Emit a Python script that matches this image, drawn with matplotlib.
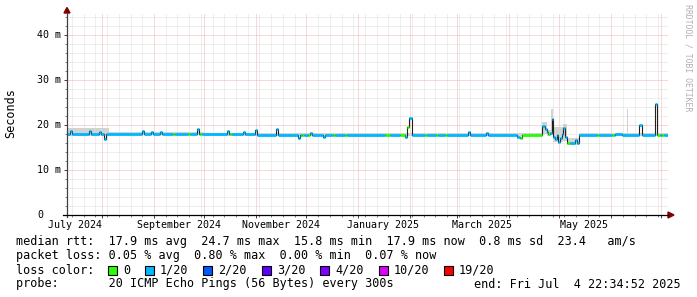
import pandas as pd
import matplotlib
matplotlib.use("Agg")
import matplotlib.pyplot as plt
import matplotlib.dates as mdates
import matplotlib.ticker as mticker
from matplotlib.transforms import blended_transform_factory
from matplotlib.patches import Polygon, Rectangle

# DONNEES
rtt_start = [
    "2024-07-10 00:00", "2024-07-12 16:00", "2024-07-14 00:00", "2024-07-24 06:00",
    "2024-07-25 10:00", "2024-07-30 04:00", "2024-07-31 10:00", "2024-08-02 06:00",
    "2024-08-03 10:00", "2024-08-24 22:00", "2024-08-26 02:00", "2024-08-30 06:00",
    "2024-08-31 12:00", "2024-09-04 14:00", "2024-09-05 20:00", "2024-09-12 08:00",
    "2024-09-13 12:00", "2024-09-21 08:00", "2024-09-22 12:00", "2024-09-26 16:00",
    "2024-09-27 22:00", "2024-09-28 12:00", "2024-09-29 18:00", "2024-10-14 14:00",
    "2024-10-15 20:00", "2024-10-16 10:00", "2024-10-17 14:00", "2024-10-24 04:00",
    "2024-10-25 10:00", "2024-10-31 08:00", "2024-11-01 12:00", "2024-11-12 20:00",
    "2024-11-14 00:00", "2024-11-25 22:00", "2024-11-27 02:00", "2024-11-28 08:00",
    "2024-11-29 12:00", "2024-12-02 00:00", "2024-12-03 04:00", "2024-12-04 10:00",
    "2024-12-10 22:00", "2024-12-12 02:00", "2024-12-16 22:00", "2024-12-18 02:00",
    "2024-12-24 00:00", "2024-12-25 04:00", "2025-01-16 22:00", "2025-01-19 22:00",
    "2025-01-25 20:00", "2025-01-28 16:00", "2025-01-30 00:00", "2025-01-31 04:00",
    "2025-02-01 22:00", "2025-02-09 20:00", "2025-02-11 00:00", "2025-02-16 04:00",
    "2025-02-17 10:00", "2025-02-22 00:00", "2025-02-23 04:00", "2025-03-07 12:00",
    "2025-03-08 18:00", "2025-03-18 04:00", "2025-03-19 10:00", "2025-04-05 20:00",
    "2025-04-07 14:00", "2025-04-08 20:00", "2025-04-20 22:00", "2025-04-22 08:00",
    "2025-04-23 12:00", "2025-04-24 12:00", "2025-04-25 12:00", "2025-04-26 12:00",
    "2025-04-27 10:00", "2025-04-28 10:00", "2025-04-29 10:00", "2025-04-30 10:00",
    "2025-05-01 10:00", "2025-05-02 10:00", "2025-05-03 10:00", "2025-05-04 10:00",
    "2025-05-05 10:00", "2025-05-07 10:00", "2025-05-10 10:00", "2025-05-11 10:00",
    "2025-05-12 22:00", "2025-05-23 08:00", "2025-05-24 12:00", "2025-06-01 08:00",
    "2025-06-02 10:00", "2025-06-03 08:00", "2025-06-07 12:00", "2025-06-17 14:00",
    "2025-06-19 04:00", "2025-06-26 22:00", "2025-06-28 12:00", "2025-06-29 22:00",
    "2025-07-01 10:00", "2025-07-02 20:00",
]
rtt_median = [
    17.9, 18.6, 17.9, 18.7, 17.9, 18.5, 18.0, 17.0,
    17.9, 18.6, 18.1, 18.4, 18.1, 18.4, 18.1, 18.1,
    18.1, 18.1, 18.1, 19.1, 18.0, 18.0, 18.0, 18.6,
    18.0, 18.0, 18.0, 18.5, 18.0, 18.8, 17.8, 19.2,
    17.8, 17.1, 17.8, 17.8, 17.8, 17.8, 18.3, 17.8,
    17.4, 17.8, 17.8, 17.8, 17.8, 17.8, 17.8, 17.8,
    17.8, 17.3, 19.6, 21.6, 17.8, 17.8, 17.8, 17.8,
    17.8, 17.8, 17.8, 18.4, 17.8, 18.3, 17.8, 17.4,
    17.1, 17.8, 19.8, 19.2, 18.5, 18.0, 18.3, 21.3,
    17.4, 16.8, 17.8, 16.3, 17.1, 18.0, 19.3, 17.4,
    15.9, 15.9, 16.7, 15.9, 17.8, 17.8, 17.8, 17.8,
    17.8, 18.0, 17.8, 19.9, 17.8, 24.7, 17.8, 17.8,
    17.8, 17.8,
]
# 0 = aucune perte, 1 = 1/20
rtt_loss = [
    1, 1, 1, 1, 1, 1, 1, 1,
    1, 1, 1, 1, 1, 1, 1, 0,
    1, 0, 1, 1, 1, 0, 1, 1,
    1, 0, 1, 1, 1, 1, 1, 1,
    1, 1, 1, 0, 1, 0, 1, 1,
    1, 1, 0, 1, 0, 1, 0, 1,
    0, 1, 0, 1, 1, 0, 1, 0,
    1, 0, 1, 1, 1, 1, 1, 1,
    0, 0, 1, 1, 1, 0, 1, 1,
    1, 1, 1, 1, 1, 1, 1, 1,
    0, 1, 1, 1, 1, 0, 1, 0,
    1, 1, 1, 1, 1, 1, 0, 1,
    0, 1,
]

smoke_start = ["2024-07-10 00:00", "2024-08-05 00:00", "2024-10-01 00:00",
               "2025-04-20 22:00", "2025-04-23 12:00", "2025-04-26 00:00", "2025-04-27 10:00",
               "2025-05-03 00:00", "2025-05-05 10:00", "2025-05-12 22:00",
               "2025-06-10 06:00", "2025-06-10 20:00", "2025-07-05 00:00"]
smoke_low = [17.5, 17.7, 17.6, 18.0, 17.6, 17.8, 16.2, 16.5, 15.6, 17.6, 17.6, 17.6, 17.6]
smoke_high = [19.3, 18.5, 18.3, 20.6, 19.0, 23.6, 19.6, 20.3, 17.1, 18.3, 23.5, 18.3, 18.3]

loss_labels = ["0", "1/20", "2/20", "3/20", "4/20", "10/20", "19/20"]
loss_colors = ["#26ff00", "#00b8ff", "#0059ff", "#5e00ff", "#7e00ff", "#dd00ff", "#ff0000"]

month_label_dates = ["2024-07-16", "2024-09-16", "2024-11-16", "2025-01-16", "2025-03-16", "2025-05-16"]
month_labels = ["July 2024", "September 2024", "November 2024", "January 2025", "March 2025", "May 2025"]

ytick_values = [0, 10, 20, 30, 40]
ytick_labels = ["0", "10 m", "20 m", "30 m", "40 m"]

ligne_rtt = "median rtt:  17.9 ms avg  24.7 ms max  15.8 ms min  17.9 ms now  0.8 ms sd  23.4   am/s"
ligne_perte = "packet loss: 0.05 % avg  0.80 % max  0.00 % min  0.07 % now"
ligne_sonde = "probe:       20 ICMP Echo Pings (56 Bytes) every 300s"
ligne_fin = "end: Fri Jul  4 22:34:52 2025"

debut = pd.Timestamp("2024-07-11 02:00")
fin = pd.Timestamp("2025-07-04 22:34")

# MISE EN PAGE (PIXELS)
W, H = 697, 297
MONO = "DejaVu Sans Mono"
FS = 8.5      # legende
FS_AX = 7.2   # axes
CW = 7.09     # largeur d'un caractere de legende en px
CW_AX = 6.0


def fx(x):
    return x / W


def fy(y):
    return 1 - y / H


fig = plt.figure(figsize=(W / 100, H / 100), dpi=100)
fig.patch.set_facecolor("white")
ax = fig.add_axes([fx(67), fy(215), 601 / W, (215 - 12.5) / H])
ax.set_facecolor("white")

ax.set_xlim(debut, fin)
ax.set_ylim(0, 45)

# grille
ax.xaxis.set_major_locator(mdates.MonthLocator())
ax.xaxis.set_minor_locator(mdates.WeekdayLocator(byweekday=mdates.SU))
ax.xaxis.set_major_formatter(mticker.NullFormatter())
ax.yaxis.set_major_locator(mticker.FixedLocator(ytick_values))
ax.yaxis.set_minor_locator(mticker.MultipleLocator(2))
ax.yaxis.set_major_formatter(mticker.NullFormatter())
ax.grid(which="minor", color="#dcdcdc", linestyle=(0, (1, 1)), linewidth=0.72, zorder=0)
ax.grid(which="major", color="#f0b0b0", linestyle=(0, (1, 1)), linewidth=0.72, zorder=0)
ax.set_axisbelow(True)

for s in ["top", "right", "left", "bottom"]:
    ax.spines[s].set_visible(False)
ax.tick_params(which="major", length=2.2, width=0.7, color="#404040")
ax.tick_params(which="minor", length=1.4, width=0.7, color="#808080")

# fumee
sm = pd.DataFrame({"t": pd.to_datetime(smoke_start), "lo": smoke_low, "hi": smoke_high})
ax.fill_between(sm["t"], sm["lo"], sm["hi"], step="post", color="#d2d2d2", lw=0, zorder=2)

# mediane
df = pd.DataFrame({"t": pd.to_datetime(rtt_start), "med": rtt_median, "loss": rtt_loss})
t_fin = list(df["t"][1:]) + [fin + pd.Timedelta(days=1)]
ax.step(list(df["t"]) + [t_fin[-1]], list(df["med"]) + [df["med"].iloc[-1]],
        where="post", color="#202020", lw=0.8, zorder=3)
ax.hlines(df["med"], df["t"], t_fin, colors=[loss_colors[i] for i in df["loss"]],
          lw=2.0, zorder=4)

# etiquettes des axes
tr_x = blended_transform_factory(ax.transData, fig.transFigure)
for d, lab in zip(month_label_dates, month_labels):
    ax.text(pd.Timestamp(d), fy(224.5), lab, transform=tr_x, ha="center", va="center",
            family=MONO, size=FS_AX)

tr_y = blended_transform_factory(fig.transFigure, ax.transData)
for v, lab in zip(ytick_values, ytick_labels):
    # rrdtool aligne "0" comme s'il avait deux espaces apres
    xr = 61 - (4 - len(lab)) * CW_AX if lab == "0" else 61
    ax.text(fx(xr), v, lab, transform=tr_y, ha="right", va="center",
            family=MONO, size=FS_AX, clip_on=False)

# axes et fleches
fig.add_artist(plt.Line2D([fx(67), fx(67)], [fy(217), fy(13)], color="#404040", lw=0.9))
fig.add_artist(plt.Line2D([fx(63), fx(668)], [fy(215), fy(215)], color="#000000", lw=0.9))
fig.patches.append(Polygon([[fx(64), fy(13)], [fx(70), fy(13)], [fx(67), fy(7.5)]],
                           closed=True, transform=fig.transFigure, color="#7f0000"))
fig.patches.append(Polygon([[fx(668), fy(212)], [fx(668), fy(218)], [fx(674), fy(215)]],
                           closed=True, transform=fig.transFigure, color="#7f0000"))

# textes
fig.text(fx(11), fy(113), "Seconds", rotation=90, ha="center", va="center", family=MONO, size=FS)
fig.text(fx(688), fy(4), "RRDTOOL / TOBI OETIKER", rotation=270, ha="center", va="top",
         family=MONO, size=5.9, color="#b0b0b0")

fig.text(fx(16), fy(242), ligne_rtt, ha="left", va="center", family=MONO, size=FS)
fig.text(fx(16), fy(256), ligne_perte, ha="left", va="center", family=MONO, size=FS)
fig.text(fx(16), fy(270), "loss color:", ha="left", va="center", family=MONO, size=FS)
fig.text(fx(16), fy(284), ligne_sonde, ha="left", va="center", family=MONO, size=FS)
fig.text(fx(681), fy(284), ligne_fin, ha="right", va="center", family=MONO, size=FS)

x = 108
for lab, col in zip(loss_labels, loss_colors):
    fig.patches.append(Rectangle((fx(x), fy(274.5)), 9 / W, 9 / H, transform=fig.transFigure,
                                 facecolor=col, edgecolor="black", lw=0.8))
    fig.text(fx(x + 15), fy(270), lab, ha="left", va="center", family=MONO, size=FS)
    x = x + 15 + len(lab) * CW + 15

fig.savefig("out.png", dpi=100, facecolor="white")
